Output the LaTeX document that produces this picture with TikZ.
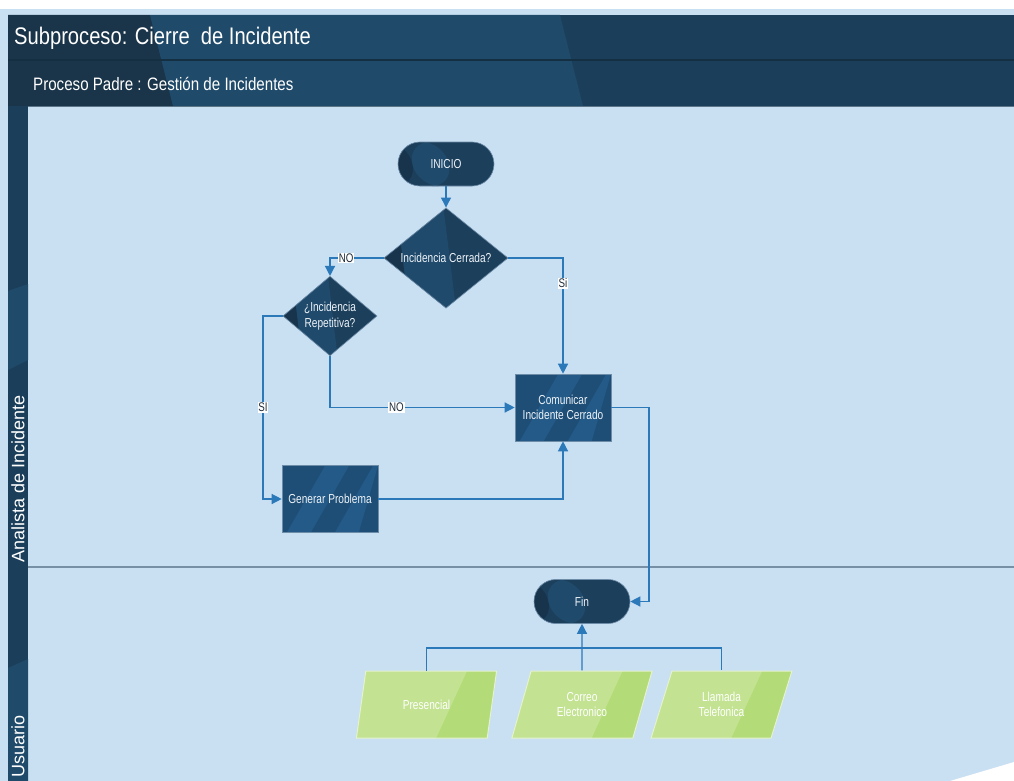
\documentclass[tikz,border=0pt]{standalone}
\usepackage{fontspec}
\setmainfont{Liberation Sans}[FakeStretch=0.78]
\newfontfamily\headfont{Liberation Sans}[FakeStretch=0.84]
\newfontfamily\lanefont{Liberation Sans}
\usetikzlibrary{arrows.meta,shapes.geometric,calc}

\definecolor{pagebg}{HTML}{C9DFF2}
\definecolor{hdrdark}{HTML}{1B3F5A}
\definecolor{hdrdeep}{HTML}{1A3449}
\definecolor{hdrlite}{HTML}{1F4A6A}
\definecolor{hdrline}{HTML}{152F42}
\definecolor{nodebase}{HTML}{1C3F5B}
\definecolor{nodedeep}{HTML}{17344C}
\definecolor{nodelite}{HTML}{1F4A6B}
\definecolor{taskbase}{HTML}{1E4E76}
\definecolor{tasklite}{HTML}{235A87}
\definecolor{nodeedge}{HTML}{6D8CA8}
\definecolor{nodetext}{HTML}{EEF3F8}
\definecolor{flowblue}{HTML}{2C79BA}
\definecolor{greenfill}{HTML}{C3E392}
\definecolor{greenband}{HTML}{B3DC79}
\definecolor{greenedge}{HTML}{E4F2CF}
\definecolor{divider}{HTML}{7890A6}
\definecolor{lbltext}{HTML}{1E2C3A}

% corner coordinates of the current path picture
\newcommand\pictcorners{%
  \coordinate (pnw) at (path picture bounding box.north west);
  \coordinate (pne) at (path picture bounding box.north east);
  \coordinate (psw) at (path picture bounding box.south west);
  \coordinate (pse) at (path picture bounding box.south east);}

\tikzset{
  nodefont/.style={font=\fontsize{13}{15.5}\selectfont},
  darkshade/.style={path picture={\pictcorners
    \fill[nodedeep] (pnw) -- ($(pnw)!0.10!(pne)$) -- ($(psw)!0.20!(pse)$) -- (psw) -- cycle;
    \fill[nodelite] ($(pnw)!0.10!(pne)$) -- ($(pnw)!0.48!(pne)$) -- ($(psw)!0.58!(pse)$) -- ($(psw)!0.20!(pse)$) -- cycle;}},
  term/.style={rectangle, rounded corners=22pt, minimum width=96pt, minimum height=44pt,
    fill=nodebase, draw=nodeedge, line width=0.6pt, text=nodetext, nodefont, darkshade},
  decision/.style={diamond, inner sep=0pt, minimum width=124pt, minimum height=86pt,
    fill=nodebase, draw=nodeedge, line width=0.6pt, text=nodetext, nodefont, align=center, darkshade},
  task/.style={rectangle, minimum width=96pt, minimum height=67pt, align=center,
    fill=taskbase, draw=nodeedge, line width=0.6pt, text=nodetext, nodefont,
    path picture={\pictcorners
      \fill[tasklite] ($(psw)!0.05!(pse)$) -- ($(pnw)!0.45!(pne)$) -- ($(pnw)!0.70!(pne)$) -- ($(psw)!0.30!(pse)$) -- cycle;
      \fill[tasklite] ($(psw)!0.55!(pse)$) -- ($(pnw)!0.95!(pne)$) -- (pne) -- ($(psw)!0.80!(pse)$) -- cycle;}},
  channel/.style={trapezium, trapezium left angle=69, trapezium right angle=111,
    trapezium stretches=true, minimum width=141pt, minimum height=67pt, inner sep=0pt,
    fill=greenfill, draw=greenedge, line width=1pt, text=white, nodefont, align=center,
    path picture={\pictcorners
      \fill[greenband] ($(pnw)!0.79!(pne)$) -- (pne) -- (pse) -- ($(psw)!0.57!(pse)$) -- cycle;}},
  flow/.style={draw=flowblue, line width=1.3pt, -{Triangle[length=10pt,width=10pt]}},
  link/.style={draw=flowblue, line width=1.3pt},
  lbl/.style={fill=white, inner sep=0.8pt, text=lbltext, font=\fontsize{12.5}{13}\selectfont},
  lanelbl/.style={text=white, font=\lanefont\fontsize{18}{20}\selectfont, rotate=90, anchor=west, inner sep=0pt},
}

\begin{document}
\begin{tikzpicture}[x=1pt, y=-1pt]
\useasboundingbox (0,0) rectangle (1014,781);

% page and lanes
\fill[white] (0,0) rectangle (1014,781);
\fill[pagebg] (0,9) rectangle (1014,781);

% header bars
\fill[hdrdark] (8,15) rectangle (1014,106);
\fill[hdrdeep] (8,15) -- (150,15) -- (173,106) -- (8,106) -- cycle;
\fill[hdrlite] (150,15) -- (560,15) -- (583,106) -- (173,106) -- cycle;
\draw[hdrline, line width=1.2pt] (8,60) -- (1014,60);
\draw[hdrline!60!pagebg, line width=0.8pt] (28,106.5) -- (1014,106.5);

% vertical lane header strip
\fill[hdrdark] (8,106) rectangle (28,781);
\fill[hdrlite] (8,291) -- (28,284) -- (28,360) -- (8,370) -- cycle;
\fill[hdrlite] (8,668) -- (28,659) -- (28,781) -- (8,781) -- cycle;

% lane divider
\draw[divider, line width=2pt] (28,567) -- (1014,567);

% torn corner
\fill[white] (950,781) -- (1014,762) -- (1014,781) -- cycle;

% titles
\node[anchor=west, text=white, font=\headfont\fontsize{24}{27}\selectfont, inner sep=0pt] (title) at (14,38) {Subproceso: Cierre~ de Incidente};
\node[anchor=west, text=white, font=\headfont\fontsize{18}{21}\selectfont, inner sep=0pt] (parent) at (33,84) {Proceso Padre : Gestión de Incidentes};

\node[lanelbl] (laneA) at (18,563) {Analista de Incidente};
\node[lanelbl] (laneB) at (18,778) {Usuario};

% flow nodes
\node[term] (start) at (446,164) {INICIO};
\node[decision] (closed) at (446,258) {Incidencia Cerrada?};
\node[decision, minimum width=94pt, minimum height=66pt] (repeated) at (330,316) {¿Incidencia\\Repetitiva?};
\node[task] (notify) at (563,407.5) {Comunicar\\Incidente Cerrado};
\node[task] (problem) at (330,499) {Generar Problema};
\node[term] (finish) at (582,601.5) {Fin};
\node[channel] (inperson) at (426.5,704.5) {Presencial};
\node[channel] (email) at (582,704.5) {Correo\\Electronico};
\node[channel] (phone) at (721.5,704.5) {Llamada\\Telefonica};

\coordinate (repbend) at (263,316);
\coordinate (notbend) at (649,407.5);
\coordinate (merge) at (582,648);

% connectors
\draw[flow] (start) -- (closed);
\draw[flow] (closed.west) -| node[lbl, pos=0.35] {NO} (repeated.north);
\draw[flow] (closed.east) -| node[lbl, pos=0.61] {Si} (notify.north);
\draw[flow] (repeated.south) |- node[lbl, pos=0.68] {NO} (notify.west);
\draw[flow] (repeated.west) -- (repbend) |- node[lbl, pos=0.25] {SI} (problem.west);
\draw[flow] (problem.east) -| (notify.south);
\draw[flow] (notify.east) -- (notbend) |- (finish.east);
\draw[link] (inperson.north) |- (merge) -| (phone.north);
\draw[flow] (email.north) -- (finish.south);
\end{tikzpicture}
\end{document}
